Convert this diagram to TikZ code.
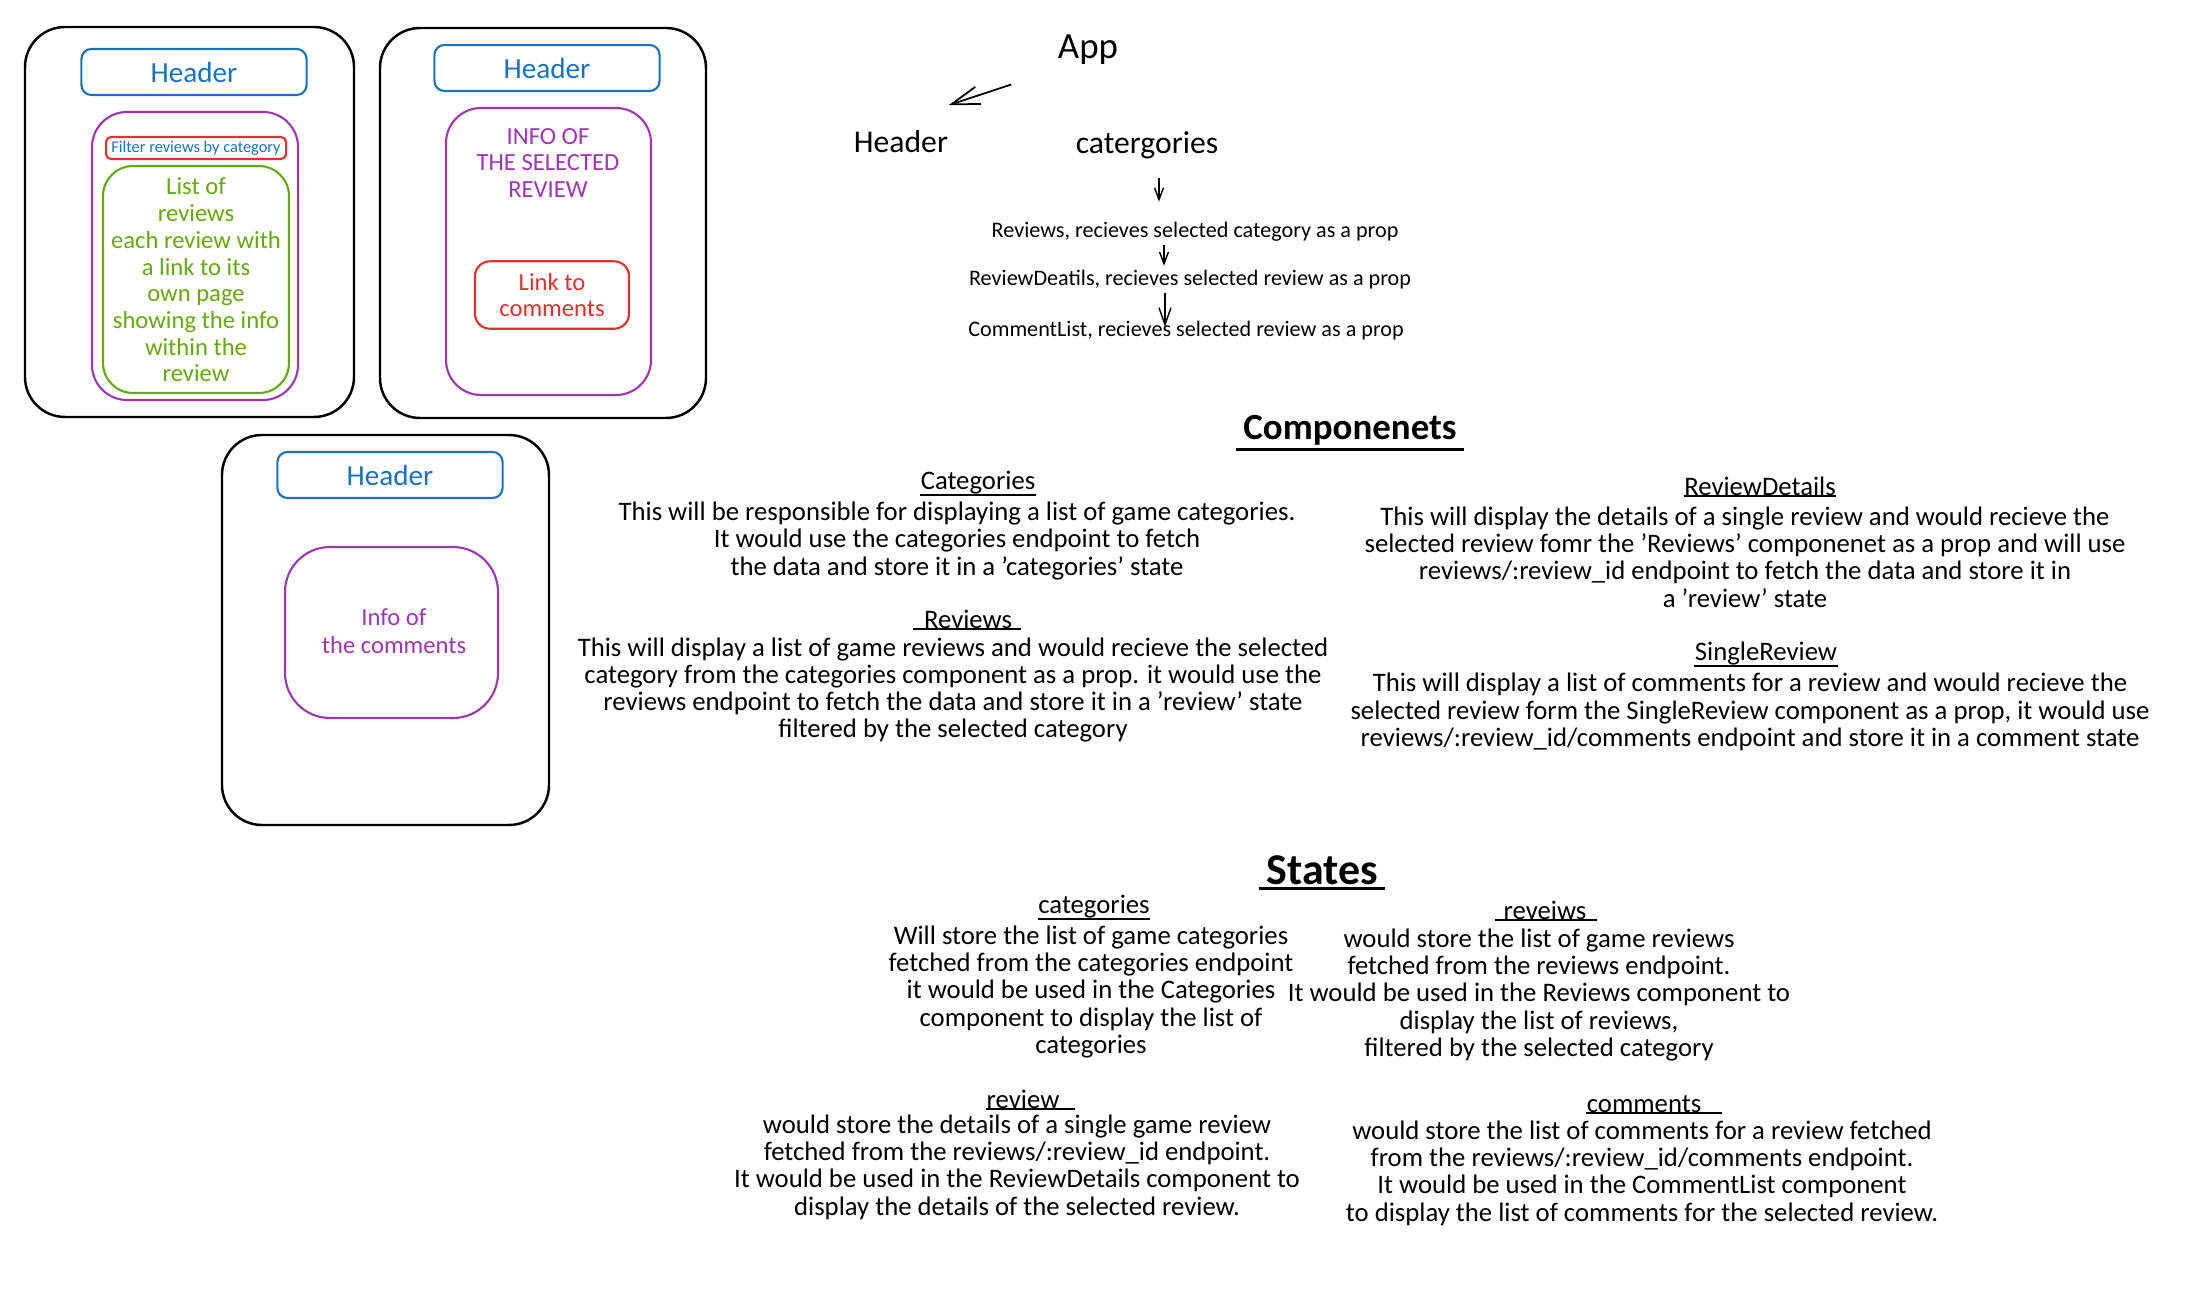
\documentclass[tikz,border=0pt]{standalone}
\usepackage{fontspec}
\setmainfont{Carlito}
\usetikzlibrary{positioning,calc,arrows.meta}

\definecolor{sketchblue}{HTML}{1971C2}
\definecolor{sketchpurple}{HTML}{9C36B5}
\definecolor{sketchgreen}{HTML}{66A80F}
\definecolor{sketchred}{HTML}{E03131}

\begin{document}
\begin{tikzpicture}[x=0.01cm, y=-0.01cm,
    frame/.style={draw=black, line width=0.7pt, rounded corners=0.4cm},
    panel/.style={draw=#1, line width=0.6pt, rounded corners=0.35cm},
    hdrbox/.style={draw=sketchblue, text=sketchblue, line width=0.6pt, rounded corners=0.1cm,
        minimum width=2.25cm, minimum height=0.46cm, font=\fontsize{8.3}{10}\selectfont},
    phonetxt/.style={align=center, font=\fontsize{7}{7.6}\selectfont},
    treetxt/.style={inner sep=0pt, font=\fontsize{6.3}{7}\selectfont},
    treehd/.style={inner sep=0pt, font=\fontsize{9}{11}\selectfont},
    bodytxt/.style={align=center, font=\fontsize{7.6}{7.75}\selectfont},
    ttl/.style={inner sep=0pt, font=\fontsize{7.6}{7.75}\selectfont},
    heading/.style={inner sep=1pt, font=\bfseries\fontsize{#1}{14}\selectfont},
    uline/.style={line width=0.5pt},
    arr/.style={-{Straight Barb[length=1.2mm,width=0.9mm]}, line width=0.4pt},
]

% canvas, same proportions as the sketch
\useasboundingbox (0,0) rectangle (2194,1304);

% Phone 1: list of reviews
\draw[frame] (25,27) rectangle (354,417);
\node[hdrbox] (hdrA) at (194,72) {Header};
\draw[panel=sketchpurple] (92,112) rectangle (298,400);
\node[draw=sketchred, text=sketchblue, line width=0.6pt, rounded corners=0.05cm, inner sep=0pt,
    minimum width=1.8cm, minimum height=0.22cm, font=\fontsize{4.65}{5}\selectfont] (filter) at (196,148) {Filter reviews by category};
\draw[panel=sketchgreen, rounded corners=0.3cm] (103,166) rectangle (289,393);
\node[phonetxt, text=sketchgreen] (revlist) at (196,280)
    {List of\\reviews\\each review with\\a link to its\\own page\\showing the info\\within the\\review};

% Phone 2: one selected review
\draw[frame] (380,28) rectangle (706,418);
\node[hdrbox] (hdrB) at (547,68) {Header};
\draw[panel=sketchpurple] (446,108) rectangle (651,395);
\node[phonetxt, text=sketchpurple] (revinfo) at (548,163) {INFO OF\\THE SELECTED\\REVIEW};
\node[phonetxt, draw=sketchred, text=sketchred, line width=0.6pt, rounded corners=0.15cm,
    minimum width=1.54cm, minimum height=0.67cm] (cmtlink) at (552,295) {Link to\\comments};

% Phone 3: comments of the review
\draw[frame] (222,435) rectangle (549,825);
\node[hdrbox] (hdrC) at (390,475) {Header};
\draw[panel=sketchpurple, rounded corners=0.45cm] (285,547) rectangle (498,718);
\node[phonetxt, text=sketchpurple, font=\fontsize{7}{8}\selectfont] (cmtinfo) at (394,631) {Info of\\the comments};

% Component tree
\node[inner sep=0pt, font=\fontsize{10.5}{12}\selectfont] (app) at (1088,50) {App};
\node[treehd] (hdr) at (901,142) {Header};
\node[treehd] (cat) at (1147,145) {catergories};
\node[treetxt] (trev) at (1195,232) {Reviews, recieves selected category as a prop};
\node[treetxt] (tdet) at (1190,280) {ReviewDeatils, recieves selected review as a prop};
\node[treetxt] (tcmt) at (1186,331) {CommentList, recieves selected review as a prop};

\draw[-{Straight Barb[length=2.8mm,width=1.8mm]}, line width=0.5pt]
    ([xshift=-0.46cm,yshift=-0.19cm]app.south west) -- ([xshift=0.0cm,yshift=0.25cm]hdr.north east);
\draw[arr, shorten <=0.19cm, shorten >=0.2cm] ([xshift=0.12cm]cat.south) -- ([xshift=0.12cm]cat.south |- trev.north);
\draw[arr, shorten <=0.03cm, shorten >=0.04cm] ([xshift=-0.31cm]trev.south) -- ([xshift=-0.31cm]trev.south |- tdet.north);
\draw[arr, -{Straight Barb[length=1.7mm,width=1.2mm]}, shorten <=0.03cm, shorten >=-0.06cm]
    ([xshift=-0.25cm]tdet.south) -- ([xshift=-0.25cm]tdet.south |- tcmt.north);

% Components
\node[heading=10.5] (cmphd) at (1350,430) {Componenets};
\draw[uline, line width=0.8pt] ([xshift=-0.03cm]cmphd.south west) -- ([xshift=0.03cm]cmphd.south east);

\node[ttl] (cmpcat) at (978,483) {Categories};
\draw[uline] (cmpcat.south west) -- (cmpcat.south east);
\node[bodytxt] (cmpcattxt) at (957,541) {This will be responsible for displaying a list of game categories.\\
    It would use the categories endpoint to fetch\\the data and store it in a 'categories' state};

\node[ttl] (cmprev) at (968,619) {Reviews};
\draw[uline] ([xshift=-0.1cm]cmprev.south west) -- ([xshift=0.08cm]cmprev.south east);
\node[bodytxt] (cmprevtxt) at (953,690) {This will display a list of game reviews and would recieve the selected\\
    category from the categories component as a prop. it would use the\\
    reviews endpoint to fetch the data and store it in a 'review' state\\filtered by the selected category};

\node[ttl] (cmpdet) at (1760,486) {ReviewDetails};
\draw[uline] (cmpdet.south west) -- (cmpdet.south east);
\node[bodytxt] (cmpdettxt) at (1745,557) {This will display the details of a single review and would recieve the\\
    selected review fomr the 'Reviews' componenet as a prop and will use\\
    reviews/:review\_id endpoint to fetch the data and store it in\\a 'review' state};

\node[ttl] (cmpsgl) at (1766,654) {SingleReview};
\draw[uline] (cmpsgl.south west) -- (cmpsgl.south east);
\node[bodytxt] (cmpsgltxt) at (1750,712) {This will display a list of comments for a review and would recieve the\\
    selected review form the SingleReview component as a prop, it would use\\
    reviews/:review\_id/comments endpoint and store it in a comment state};

% States
\node[heading=12.5] (sthd) at (1322,870) {States};
\draw[uline, line width=0.8pt] ([xshift=-0.03cm]sthd.south west) -- ([xshift=0.03cm]sthd.south east);

\node[ttl] (stcat) at (1094,907) {categories};
\draw[uline] (stcat.south west) -- (stcat.south east);
\node[bodytxt] (stcattxt) at (1091,992) {Will store the list of game categories\\fetched from the categories endpoint\\
    it would be used in the Categories\\component to display the list of\\categories};

\node[ttl] (strev) at (1545,910) {reveiws};
\draw[uline] ([xshift=-0.08cm]strev.south west) -- ([xshift=0.1cm]strev.south east);
\node[bodytxt] (strevtxt) at (1539,995) {would store the list of game reviews\\fetched from the reviews endpoint.\\
    It would be used in the Reviews component to\\display the list of reviews,\\filtered by the selected category};

\node[ttl] (stone) at (1023,1099) {review};
\draw[uline] (stone.south west) -- ([xshift=0.15cm]stone.south east);
\node[bodytxt] (stonetxt) at (1017,1167) {would store the details of a single game review\\fetched from the reviews/:review\_id endpoint.\\
    It would be used in the ReviewDetails component to\\display the details of the selected review.};

\node[ttl] (stcmt) at (1644,1104) {comments};
\draw[uline] (stcmt.south west) -- ([xshift=0.2cm]stcmt.south east);
\node[bodytxt] (stcmttxt) at (1642,1173) {would store the list of comments for a review fetched\\from the reviews/:review\_id/comments endpoint.\\
    It would be used in the CommentList component\\to display the list of comments for the selected review.};
\end{tikzpicture}
\end{document}
